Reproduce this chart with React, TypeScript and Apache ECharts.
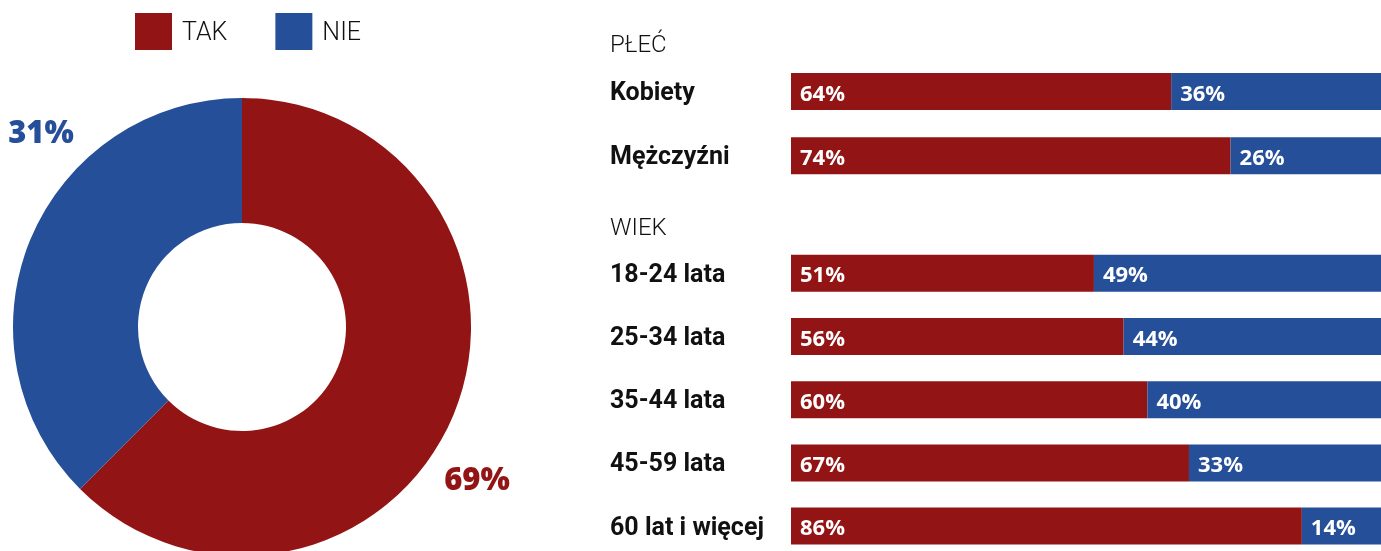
import React, { useEffect, useRef } from "react";
import * as echarts from "echarts";

const RED = "#921414";
const BLUE = "#264F99";

const legendNames = ["TAK", "NIE"];
// Printed percentages on the donut
const donutLabels = [69, 31];
// Slice sizes as drawn in the reference (boundary at the 7:30 position)
const donutValues = [62.5, 37.5];

const sexHeader = "PŁEĆ";
const sexCategories = ["Kobiety", "Mężczyźni"];
const sexYes = [64, 74];
const sexNo = [36, 26];

const ageHeader = "WIEK";
const ageCategories = ["18-24 lata", "25-34 lata", "35-44 lata", "45-59 lata", "60 lat i więcej"];
const ageYes = [51, 56, 60, 67, 86];
const ageNo = [49, 44, 40, 33, 14];

const FONT = "Roboto";

export default function App() {
  const ref = useRef<HTMLDivElement>(null);

  useEffect(() => {
    if (!ref.current) return;
    const chart = echarts.init(ref.current, null, { renderer: "svg" });

    const barLabel = {
      show: true,
      position: "insideLeft",
      distance: 9,
      formatter: "{c}%",
      color: "#fff",
      fontFamily: "Open Sans",
      fontWeight: "bold",
      fontSize: 22,
    };

    const catAxis = (gridIndex: number, data: string[]) => ({
      type: "category",
      gridIndex,
      data,
      inverse: true,
      axisLine: { show: false },
      axisTick: { show: false },
      axisLabel: {
        align: "left",
        margin: 181,
        color: "#111",
        fontFamily: FONT,
        fontWeight: "bold",
        fontSize: 25,
      },
    });

    const valAxis = (gridIndex: number) => ({
      type: "value",
      gridIndex,
      min: 0,
      max: 100,
      show: false,
    });

    const barSeries = (name: string, idx: number, data: number[], color: string) => ({
      type: "bar",
      name,
      xAxisIndex: idx,
      yAxisIndex: idx,
      stack: "s" + idx,
      barWidth: 37,
      data,
      itemStyle: { color },
      label: barLabel,
    });

    chart.setOption({
      animation: false,
      legend: {
        data: legendNames,
        left: 135,
        top: 13,
        padding: 0,
        itemWidth: 37,
        itemHeight: 37,
        itemGap: 48,
        icon: "rect",
        textStyle: {
          fontFamily: FONT,
          fontWeight: 300,
          fontSize: 25,
          color: "#111",
          padding: [0, 0, 0, 5],
        },
      },
      graphic: [
        {
          type: "text",
          left: 610,
          top: 32,
          style: { text: sexHeader, fontFamily: FONT, fontWeight: 300, fontSize: 24, fill: "#111" },
        },
        {
          type: "text",
          left: 610,
          top: 215,
          style: { text: ageHeader, fontFamily: FONT, fontWeight: 300, fontSize: 24, fill: "#111" },
        },
      ],
      grid: [
        { left: 791, top: 59.4, width: 594, height: 128.4 },
        { left: 791, top: 241.7, width: 594, height: 316 },
      ],
      xAxis: [valAxis(0), valAxis(1)],
      yAxis: [catAxis(0, sexCategories), catAxis(1, ageCategories)],
      series: [
        {
          type: "pie",
          center: [242, 327],
          radius: [104, 229],
          startAngle: 90,
          clockwise: true,
          silent: true,
          data: legendNames.map((n, i) => ({
            name: n,
            value: donutValues[i],
            itemStyle: { color: i === 0 ? RED : BLUE },
            label: {
              formatter: donutLabels[i] + "%",
              color: i === 0 ? RED : BLUE,
            },
          })),
          label: {
            show: true,
            position: "inside",
            fontFamily: "Open Sans",
            fontWeight: 800,
            fontSize: 31,
          },
          labelLine: { show: false },
          labelLayout: (p: any) =>
            p.dataIndex === 0
              ? { x: 477, y: 478, align: "center", verticalAlign: "middle" }
              : { x: 41, y: 131, align: "center", verticalAlign: "middle" },
        },
        barSeries("TAK", 0, sexYes, RED),
        barSeries("NIE", 0, sexNo, BLUE),
        barSeries("TAK", 1, ageYes, RED),
        barSeries("NIE", 1, ageNo, BLUE),
      ],
    });

    return () => chart.dispose();
  }, []);

  return (
    <div
      ref={ref}
      style={{ position: "fixed", left: 0, top: 0, width: 1400, height: 600 }}
    />
  );
}
